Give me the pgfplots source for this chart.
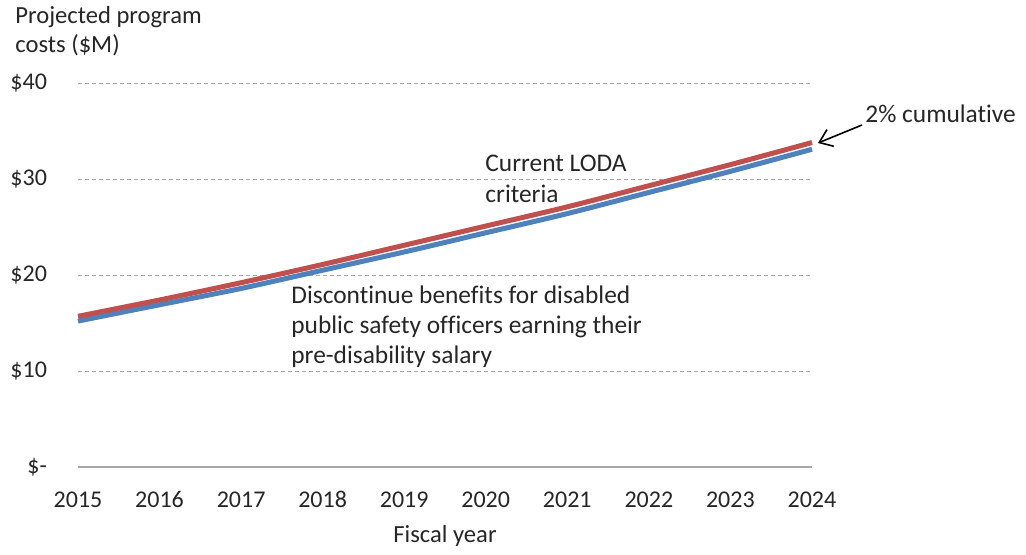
\documentclass[border=0pt]{standalone}
\usepackage{pgfplots}
\pgfplotsset{compat=1.18}
\usepackage{fontspec}
\setmainfont{Carlito}[Ligatures=NoCommon]
\usetikzlibrary{arrows.meta}
\definecolor{exred}{HTML}{C0504D}
\definecolor{exblue}{HTML}{4F81BD}
\definecolor{gridgray}{HTML}{A6A6A6}
\definecolor{txt}{HTML}{262626}
\begin{document}
\begin{tikzpicture}[font=\fontsize{12}{14.7}\selectfont, every node/.style={text=txt}]
\useasboundingbox (-39pt,-43.5pt) rectangle (474pt,233.5pt);
\begin{axis}[
  at={(0,0)}, anchor=south west,
  scale only axis, width=367pt, height=192pt,
  xmin=2015, xmax=2024, ymin=0, ymax=40,
  axis line style={draw=none},
  clip=false,
  xtick={2015,...,2024},
  xticklabels={2015,2016,2017,2018,2019,2020,2021,2022,2023,2024},
  ytick={0,10,20,30,40},
  yticklabels={\$-,\$10,\$20,\$30,\$40},
  major tick length=0pt,
  tick style={draw=none},
  xticklabel style={anchor=base, yshift=-20pt, font=\fontsize{12}{14.7}\selectfont},
  yticklabel style={anchor=east, xshift=-12pt, font=\fontsize{12}{14.7}\selectfont},
  ymajorgrids, grid style={gridgray, dash pattern=on 2pt off 1.5pt, line width=0.5pt},
  xlabel={Fiscal year},
  xlabel style={at={(axis description cs:0.5,0)}, anchor=center, yshift=-34.5pt, font=\fontsize{12.3}{14.7}\selectfont},
]
\draw[gridgray, line width=0.7pt] (axis cs:2015,0) -- (axis cs:2024,0);
\addplot[exblue, line width=2.5pt, smooth] coordinates {
(2015,15.2) (2016,16.9) (2017,18.6) (2018,20.5) (2019,22.4) (2020,24.4) (2021,26.4) (2022,28.6) (2023,30.8) (2024,33.1)};
\addplot[exred, line width=2.5pt, smooth] coordinates {
(2015,15.7) (2016,17.4) (2017,19.2) (2018,21.1) (2019,23.1) (2020,25.1) (2021,27.1) (2022,29.3) (2023,31.5) (2024,33.8)};
\end{axis}
\begin{scope}[font=\fontsize{12.7}{15.2}\selectfont]
\node[anchor=north west, inner sep=0pt, align=left, font=\fontsize{12.3}{14.4}\selectfont] at (-31.5pt,230.5pt) {Projected program\\costs (\$M)};
\node[anchor=north west, inner sep=0pt, align=left] at (203.5pt,156pt) {Current LODA\\criteria};
\node[anchor=north west, inner sep=0pt, align=left] at (106.5pt,91pt) {Discontinue benefits for disabled\\public safety officers earning their\\pre-disability salary};
\node[anchor=west, inner sep=0pt] at (393.5pt,176.5pt) {2\% cumulative};
\end{scope}
\draw[black, line width=0.8pt, -{Straight Barb[length=6pt,width=9pt]}] (392pt,171pt) -- (370pt,162pt);
\end{tikzpicture}
\end{document}
